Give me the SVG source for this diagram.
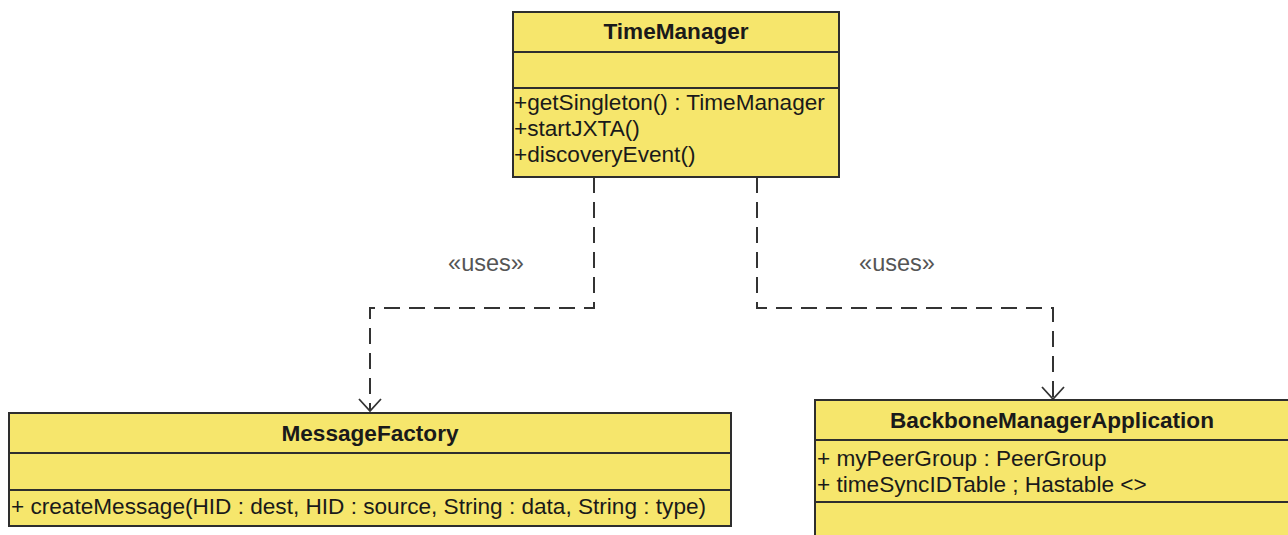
<svg xmlns="http://www.w3.org/2000/svg" width="1288" height="535" viewBox="0 0 1288 535">
  <defs>
    <marker id="openArrow" viewBox="0 0 24 14" refX="12" refY="13" markerWidth="24" markerHeight="14" markerUnits="userSpaceOnUse" orient="0">
      <path d="M1,1 L12,13 L23,1" fill="none" stroke="#333" stroke-width="1.8"/>
    </marker>
  </defs>
  <style>
    .box { fill: #f6e66c; stroke: #2e2e2e; stroke-width: 2; }
    .sep { stroke: #2e2e2e; stroke-width: 2; }
    .title { font-family: "Liberation Sans", Arial, sans-serif; font-size: 22.6px; font-weight: bold; fill: #1a1a1a; text-anchor: middle; }
    .member { font-family: "Liberation Sans", Arial, sans-serif; font-size: 22.6px; fill: #1a1a1a; }
    .stereo { font-family: "Liberation Sans", Arial, sans-serif; font-size: 23.5px; fill: #555; text-anchor: middle; }
    .dep { fill: none; stroke: #333; stroke-width: 2; stroke-dasharray: 16 9; }
  </style>
  <rect width="1288" height="535" fill="#ffffff"/>

  <!-- dependency connectors -->
  <g id="connectors">
    <path class="dep" d="M594,177 L594,308 L370,308 L370,411" marker-end="url(#openArrow)"/>
    <path class="dep" d="M757,177 L757,308 L1053,308 L1053,399" marker-end="url(#openArrow)"/>
    <text class="stereo" x="486" y="271">«uses»</text>
    <text class="stereo" x="897" y="271">«uses»</text>
  </g>

  <!-- TimeManager class -->
  <g id="TimeManager">
    <rect class="box" x="513" y="12" width="326" height="165"/>
    <line class="sep" x1="513" y1="52" x2="839" y2="52"/>
    <line class="sep" x1="513" y1="88" x2="839" y2="88"/>
    <text class="title" x="676" y="39">TimeManager</text>
    <text class="member" x="514" y="110">+getSingleton() : TimeManager</text>
    <text class="member" x="514" y="136">+startJXTA()</text>
    <text class="member" x="514" y="162">+discoveryEvent()</text>
  </g>

  <!-- MessageFactory class -->
  <g id="MessageFactory">
    <rect class="box" x="9" y="413" width="722" height="113"/>
    <line class="sep" x1="9" y1="453" x2="731" y2="453"/>
    <line class="sep" x1="9" y1="490" x2="731" y2="490"/>
    <text class="title" x="370" y="441">MessageFactory</text>
    <text class="member" x="11" y="514">+ createMessage(HID : dest, HID : source, String : data, String : type)</text>
  </g>

  <!-- BackboneManagerApplication class -->
  <g id="BackboneManagerApplication">
    <rect class="box" x="815" y="400" width="480" height="150"/>
    <line class="sep" x1="815" y1="440" x2="1295" y2="440"/>
    <line class="sep" x1="815" y1="502" x2="1295" y2="502"/>
    <text class="title" x="1052" y="428">BackboneManagerApplication</text>
    <text class="member" x="817" y="466">+ myPeerGroup : PeerGroup</text>
    <text class="member" x="817" y="492">+ timeSyncIDTable ; Hastable &lt;&gt;</text>
  </g>
</svg>
